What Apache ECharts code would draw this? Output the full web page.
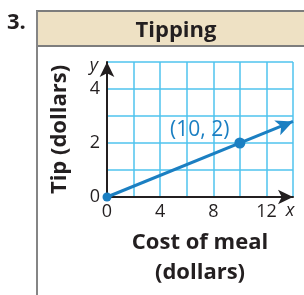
<!DOCTYPE html>
<html>
<head>
<meta charset="utf-8">
<script src="https://cdn.jsdelivr.net/npm/echarts@6/dist/echarts.min.js"></script>
<style>
html, body { margin: 0; padding: 0; background: #fff; }
#chart { width: 304px; height: 295px; }
</style>
</head>
<body>
<div id="chart"></div>
<script>
// chart values
var xMax = 14, xStep = 2;
var yMax = 5, yStep = 1;
var xLabels = [0, 4, 8, 12];
var yLabels = [0, 2, 4];
var tipLine = [[0, 0], [14, 2.8]];
var points = [[0, 0], [10, 2]];
var pointLabels = ['', '(10, 2)'];
var pointSizes = [9, 11];

var blue = '#1b7fc2';
var gridBlue = '#4fc3ee';
var font = '"Open Sans", "DejaVu Sans", sans-serif';

var myChart = echarts.init(document.getElementById('chart'));

var option = {
	animation: false,
	title: {
		text: 'Tipping',
		left: 171,
		top: 15,
		textAlign: 'center',
		textStyle: { fontFamily: font, fontWeight: 'bold', fontSize: 22, color: '#231f20' }
	},
	grid: { left: 107, right: 11, top: 62, bottom: 98, containLabel: false },
	xAxis: {
		type: 'value',
		min: 0,
		max: xMax,
		interval: xStep,
		name: 'Cost of meal\n(dollars)',
		nameLocation: 'middle',
		nameGap: 31,
		nameTextStyle: { fontFamily: font, fontWeight: 'bold', fontSize: 22, lineHeight: 30, color: '#231f20' },
		axisLine: { lineStyle: { color: '#231f20', width: 2 }, symbol: ['none', 'arrow'], symbolSize: [11, 15] },
		axisTick: { show: false },
		splitLine: { show: true, lineStyle: { color: gridBlue, width: 1.5 } },
		axisLabel: {
			margin: 6,
			fontFamily: font, fontSize: 18, color: '#231f20',
			formatter: function(v) { return xLabels.indexOf(v) > -1 ? String(v) : ''; }
		}
	},
	yAxis: {
		type: 'value',
		min: 0,
		max: yMax,
		interval: yStep,
		name: 'Tip (dollars)',
		nameLocation: 'middle',
		nameRotate: 90,
		nameGap: 36,
		nameTextStyle: { fontFamily: font, fontWeight: 'bold', fontSize: 22, color: '#231f20' },
		axisLine: { lineStyle: { color: '#231f20', width: 2 }, symbol: ['none', 'arrow'], symbolSize: [11, 15] },
		axisTick: { show: false },
		splitLine: { show: true, lineStyle: { color: gridBlue, width: 1.5 } },
		axisLabel: {
			margin: 7,
			fontFamily: font, fontSize: 18, color: '#231f20',
			formatter: function(v) { return yLabels.indexOf(v) > -1 ? String(v) : ''; }
		}
	},
	graphic: [
		{ type: 'rect', shape: { x: 37, y: 11, width: 290, height: 35 }, style: { fill: '#eee1c4', stroke: '#7d7d7d', lineWidth: 2 }, z: -1 },
		{ type: 'line', shape: { x1: 37, y1: 11, x2: 37, y2: 295 }, style: { stroke: '#858585', lineWidth: 2 }, z: -1 },
		{ type: 'text', left: 7, top: 12, style: { text: '3.', fontFamily: font, fontWeight: 'bold', fontSize: 22, fill: '#231f20' } },
		{ type: 'text', x: 94, y: 66, style: { text: 'y', fontFamily: font, fontStyle: 'italic', fontSize: 18, fill: '#231f20', align: 'center', verticalAlign: 'middle' } },
		{ type: 'text', x: 290, y: 211, style: { text: 'x', fontFamily: font, fontStyle: 'italic', fontSize: 18, fill: '#231f20', align: 'center', verticalAlign: 'middle' } }
	],
	series: [
		{
			type: 'line',
			data: [],
			silent: true,
			markLine: {
				silent: true,
				symbol: ['none', 'arrow'],
				symbolSize: [12, 17],
				label: { show: false },
				lineStyle: { color: blue, width: 3, type: 'solid' },
				data: [[{ coord: tipLine[0] }, { coord: tipLine[1] }]]
			}
		},
		{
			type: 'scatter',
			silent: true,
			data: points.map(function(p, i) {
				return {
					value: p,
					symbolSize: pointSizes[i],
					label: {
						show: pointLabels[i] !== '',
						formatter: pointLabels[i],
						position: 'left',
						offset: [0, -13],
						fontFamily: font, fontSize: 21, color: blue
					}
				};
			}),
			itemStyle: { color: blue, opacity: 1 },
			z: 5
		}
	]
};
myChart.setOption(option);
</script>
</body>
</html>
